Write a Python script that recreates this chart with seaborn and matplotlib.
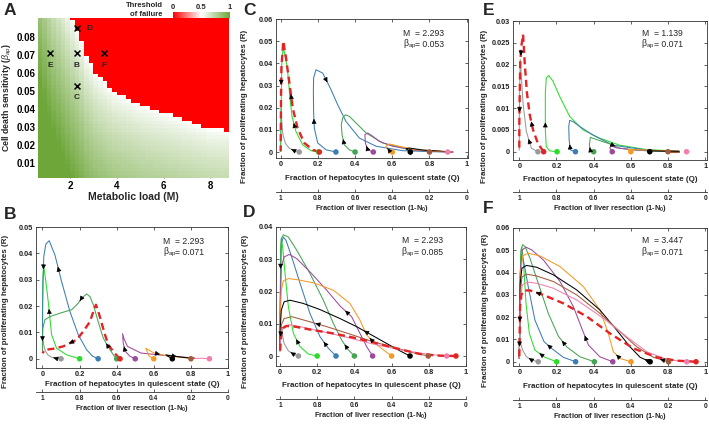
import numpy as np
import pandas as pd
import matplotlib
matplotlib.use("Agg")
import matplotlib.pyplot as plt
import seaborn as sns
from matplotlib.colors import LinearSegmentedColormap

sns.set_theme(style="white")
plt.rcParams["font.family"] = ["Liberation Sans", "DejaVu Sans"]
plt.rcParams["mathtext.fontset"] = "custom"
plt.rcParams["mathtext.rm"] = "Liberation Sans"
plt.rcParams["mathtext.it"] = "Liberation Sans:italic"
plt.rcParams["mathtext.bf"] = "Liberation Sans:bold"

# ---------------- panel A: failure threshold map ----------------
boundary_M = [0.6, 1.2, 2.07, 2.43, 2.69, 3.14, 3.86, 4.29, 5.14, 6.0, 6.71, 7.29, 7.93, 8.83]
boundary_beta = [0.15, 0.12, 0.0906, 0.08, 0.0696, 0.0596, 0.0498, 0.047, 0.0415,
                 0.0378, 0.035, 0.0322, 0.0294, 0.0281]
marker_M = [2.293, 2.293, 2.293, 1.139, 3.447]
marker_beta = [0.071, 0.053, 0.085, 0.071, 0.071]
marker_names = ["B", "C", "D", "E", "F"]

# ---------------- panels B-F: trajectories (Q, R) ----------------
colors = {"gray": "#9a9a9a", "lime": "#2bdc2b", "blue": "#3c7db4", "green": "#45a452",
          "purple": "#9c4a9e", "orange": "#f39a24", "black": "#000000", "brown": "#a35a3d",
          "pink": "#f07fae", "red": "#e32424"}

traj_B = {
    "gray": [(0.1, 0), (0.07, 0.0002), (0.049, 0.0006), (0.03, 0.0014), (0.015, 0.003),
             (0.006, 0.0055), (0.002, 0.007), (0, 0.005), (0, 0.003)],
    "lime": [(0.2, 0), (0.13, 0.0015), (0.076, 0.004), (0.049, 0.0091), (0.04, 0.0154),
             (0.031, 0.0217), (0.018, 0.0293), (0.007, 0.035), (0.002, 0.0306), (0, 0.019),
             (0, 0.0066), (0, 0.003)],
    "blue": [(0.3, 0), (0.27, 0.001), (0.238, 0.0034), (0.193, 0.0091), (0.148, 0.0179),
             (0.103, 0.0293), (0.067, 0.0394), (0.036, 0.0448), (0.018, 0.0435), (0.007, 0.0388),
             (0.003, 0.03), (0.001, 0.02), (0, 0.01), (0, 0.004)],
    "green": [(0.4, 0), (0.385, 0.0012), (0.364, 0.0034), (0.328, 0.0078), (0.30, 0.0141),
              (0.274, 0.0205), (0.256, 0.0236), (0.238, 0.0246), (0.211, 0.023), (0.193, 0.0211),
              (0.157, 0.0186), (0.094, 0.0173), (0.04, 0.016), (0.013, 0.0148), (0.002, 0.0116),
              (0, 0.0066), (0, 0.003)],
    "purple": [(0.5, 0), (0.47, 0.001), (0.445, 0.003), (0.435, 0.006), (0.432, 0.0095),
               (0.44, 0.0075), (0.458, 0.0047), (0.53, 0.0022), (0.674, 0.0011), (0.82, 0.0003)],
    "orange": [(0.6, 0), (0.575, 0.001), (0.557, 0.004), (0.6, 0.0022), (0.66, 0.0013),
               (0.75, 0.0005), (0.82, 0.0001)],
    "black": [(0.7, 0), (0.68, 0.0008), (0.665, 0.0015), (0.69, 0.0012), (0.75, 0.0006), (0.82, 0.0001)],
    "brown": [(0.8, 0), (0.79, 0.0003), (0.82, 0.0001)],
    "pink": [(0.9, 0), (0.86, 0.0002), (0.82, 0.0001)],
    "red": [(0.418, 0), (0.39, 0.002), (0.355, 0.0053), (0.337, 0.0091), (0.319, 0.0135),
            (0.301, 0.0179), (0.288, 0.0205), (0.274, 0.0179), (0.256, 0.0141), (0.22, 0.0104),
            (0.184, 0.0072), (0.112, 0.0047), (0.058, 0.0038), (0.013, 0.0034), (0, 0.0021)],
}
arrows_B = [("blue", 5), ("blue", 9), ("blue", 12), ("lime", 4), ("green", 2), ("green", 8),
            ("red", 10), ("gray", 1), ("purple", 2), ("orange", 3), ("black", 3)]

traj_C = {
    "gray": [(0.1, 0), (0.073, 0.0006), (0.045, 0.0018), (0.025, 0.004), (0.012, 0.008),
             (0.006, 0.014), (0.003, 0.02), (0.001, 0.015), (0, 0.005), (0, 0.0003)],
    "lime": [(0.204, 0), (0.163, 0.0006), (0.118, 0.0033), (0.082, 0.0093), (0.061, 0.0161),
             (0.05, 0.0244), (0.036, 0.0379), (0.014, 0.0477), (0.006, 0.04), (0.003, 0.02),
             (0.001, 0.005), (0, 0.0003)],
    "blue": [(0.297, 0), (0.244, 0.001), (0.199, 0.0041), (0.181, 0.0108), (0.177, 0.0183),
             (0.176, 0.0274), (0.177, 0.0334), (0.19, 0.0371), (0.226, 0.0356), (0.271, 0.0281),
             (0.306, 0.0214), (0.351, 0.0138), (0.423, 0.0063), (0.513, 0.0026), (0.656, 0.0006),
             (0.835, 0.0001), (0.925, 0)],
    "green": [(0.4, 0), (0.369, 0.001), (0.342, 0.0033), (0.33, 0.0078), (0.326, 0.0123),
              (0.333, 0.0153), (0.348, 0.0168), (0.369, 0.0161), (0.405, 0.0131), (0.459, 0.0086),
              (0.548, 0.0041), (0.692, 0.001), (0.925, 0)],
    "purple": [(0.498, 0), (0.468, 0.001), (0.455, 0.0041), (0.453, 0.0078), (0.468, 0.0086),
               (0.495, 0.0071), (0.53, 0.0048), (0.602, 0.0026), (0.728, 0.0008), (0.925, 0)],
    "orange": [(0.6, 0), (0.584, 0.0006), (0.566, 0.0026), (0.584, 0.0036), (0.638, 0.0026),
               (0.728, 0.001), (0.925, 0)],
    "black": [(0.697, 0), (0.674, 0.0015), (0.692, 0.0018), (0.763, 0.0009), (0.925, 0)],
    "brown": [(0.8, 0), (0.79, 0.0004), (0.85, 0.0002), (0.925, 0)],
    "pink": [(0.898, 0), (0.91, 0.0001), (0.925, 0)],
    "red": [(0.208, 0), (0.172, 0.001), (0.127, 0.0041), (0.091, 0.0108), (0.065, 0.0198),
            (0.047, 0.0311), (0.029, 0.0424), (0.014, 0.05), (0.004, 0.0379), (0.002, 0.0244),
            (0, 0.0003)],
}
arrows_C = [("red", 4), ("red", 8), ("lime", 3), ("gray", 1), ("blue", 3), ("blue", 8),
            ("green", 2), ("purple", 1), ("orange", 1), ("black", 0)]

traj_D = {
    "gray": [(0.099, 0), (0.072, 0.0006), (0.045, 0.0016), (0.022, 0.0039), (0.011, 0.007),
             (0.007, 0.0093), (0.004, 0.0075), (0.002, 0.0049), (0, 0.0013)],
    "lime": [(0.2, 0), (0.152, 0.0006), (0.108, 0.0029), (0.072, 0.007), (0.045, 0.0153),
             (0.027, 0.0256), (0.014, 0.0338), (0.007, 0.0364), (0.004, 0.0328), (0.002, 0.0225),
             (0, 0.0091), (0, 0.0019)],
    "blue": [(0.301, 0), (0.26, 0.0024), (0.215, 0.006), (0.161, 0.0132), (0.108, 0.0225),
             (0.063, 0.0307), (0.032, 0.0359), (0.018, 0.0369), (0.007, 0.0348), (0.004, 0.0276),
             (0.002, 0.0153), (0, 0.0029)],
    "green": [(0.4, 0), (0.367, 0.0019), (0.332, 0.0049), (0.287, 0.0101), (0.233, 0.0173),
              (0.161, 0.0256), (0.09, 0.0328), (0.045, 0.0369), (0.018, 0.0376), (0.007, 0.0364),
              (0.004, 0.0318), (0.002, 0.0173), (0, 0.0029)],
    "purple": [(0.498, 0), (0.466, 0.0029), (0.43, 0.007), (0.385, 0.0122), (0.323, 0.0155),
               (0.251, 0.0204), (0.161, 0.0261), (0.09, 0.0302), (0.05, 0.0315), (0.022, 0.0307),
               (0.007, 0.0276), (0.002, 0.0173), (0, 0.0029)],
    "orange": [(0.6, 0), (0.556, 0.0019), (0.502, 0.0044), (0.466, 0.0065), (0.43, 0.0111),
               (0.376, 0.0163), (0.287, 0.0204), (0.179, 0.0227), (0.09, 0.0237), (0.045, 0.024),
               (0.018, 0.0233), (0.007, 0.0204), (0.002, 0.0122), (0, 0.0029)],
    "black": [(0.699, 0), (0.645, 0.0016), (0.573, 0.0039), (0.502, 0.0062), (0.412, 0.0091),
              (0.323, 0.0116), (0.215, 0.0144), (0.125, 0.0163), (0.054, 0.0173), (0.022, 0.0168),
              (0.007, 0.0142), (0.002, 0.0091), (0, 0.0029)],
    "brown": [(0.797, 0), (0.717, 0.001), (0.609, 0.0027), (0.502, 0.0044), (0.376, 0.0068),
              (0.251, 0.0091), (0.143, 0.0109), (0.063, 0.0122), (0.022, 0.0116), (0.007, 0.0096),
              (0.002, 0.006), (0, 0.0024)],
    "pink": [(0.896, 0), (0.789, 0.0006), (0.645, 0.0019), (0.502, 0.0037), (0.358, 0.0058),
             (0.233, 0.0075), (0.125, 0.0089), (0.054, 0.0097), (0.022, 0.0093), (0.007, 0.0075),
             (0.002, 0.0049), (0, 0.0019)],
    "red": [(0.946, 0), (0.86, 0.0001), (0.753, 0.0006), (0.645, 0.0021), (0.538, 0.0037),
            (0.412, 0.0055), (0.287, 0.007), (0.161, 0.0082), (0.081, 0.0091), (0.036, 0.0093),
            (0.014, 0.0086), (0.005, 0.006), (0.002, 0.0029), (0, 0.0006)],
}
arrows_D = [("gray", 1), ("gray", 6), ("lime", 2), ("lime", 8), ("blue", 1), ("green", 1),
            ("purple", 3), ("orange", 2), ("black", 3), ("brown", 5)]

traj_E = {
    "gray": [(0.1, 0), (0.065, 0.0008), (0.038, 0.0046), (0.02, 0.0112), (0.011, 0.0173),
             (0.005, 0.0212), (0.002, 0.015), (0, 0.0073), (0, 0.0004)],
    "lime": [(0.203, 0), (0.163, 0.0002), (0.145, 0.0012), (0.14, 0.005), (0.14, 0.0081),
             (0.14, 0.0135), (0.145, 0.0169), (0.158, 0.0175), (0.181, 0.0162), (0.217, 0.0127),
             (0.271, 0.0081), (0.343, 0.005), (0.433, 0.0031), (0.54, 0.0015), (0.684, 0.0005),
             (0.86, 0.0001)],
    "blue": [(0.302, 0), (0.275, 0.0004), (0.268, 0.0027), (0.266, 0.0058), (0.271, 0.0072),
             (0.289, 0.0069), (0.325, 0.0058), (0.397, 0.0038), (0.504, 0.0015), (0.684, 0.0004),
             (0.86, 0)],
    "green": [(0.4, 0), (0.382, 0.0004), (0.377, 0.0015), (0.382, 0.0033), (0.415, 0.0028),
              (0.487, 0.0018), (0.54, 0.0008), (0.684, 0.0002), (0.86, 0)],
    "purple": [(0.5, 0), (0.487, 0.0008), (0.492, 0.0014), (0.522, 0.0009), (0.612, 0.0004),
               (0.86, 0.0001)],
    "orange": [(0.6, 0), (0.585, 0.0005), (0.612, 0.0005), (0.86, 0.0001)],
    "black": [(0.702, 0), (0.69, 0.0002), (0.86, 0.0001)],
    "brown": [(0.8, 0), (0.86, 0)],
    "pink": [(0.9, 0)],
    "red": [(0.131, 0), (0.1, 0.0019), (0.074, 0.005), (0.056, 0.0085), (0.041, 0.0135),
            (0.029, 0.0204), (0.023, 0.025), (0.02, 0.0269), (0.011, 0.0242), (0.005, 0.0204),
            (0.002, 0.0127), (0, 0.0062), (0, 0.0004)],
}
arrows_E = [("red", 2), ("red", 8), ("red", 10), ("gray", 1), ("lime", 3), ("blue", 1),
            ("green", 1), ("green", 5)]

traj_F = {
    "gray": [(0.102, 0), (0.066, 0.0008), (0.039, 0.0022), (0.018, 0.0052), (0.007, 0.0082),
             (0.003, 0.0095), (0.001, 0.007), (0, 0.0015)],
    "lime": [(0.201, 0), (0.138, 0.002), (0.084, 0.0052), (0.054, 0.0127), (0.036, 0.0262),
             (0.025, 0.0412), (0.018, 0.0487), (0.013, 0.0514), (0.007, 0.0472), (0.004, 0.0307),
             (0.002, 0.0127), (0, 0.0022)],
    "blue": [(0.303, 0), (0.237, 0.002), (0.174, 0.006), (0.133, 0.009), (0.084, 0.0187),
             (0.048, 0.0337), (0.025, 0.0442), (0.016, 0.0475), (0.007, 0.0442), (0.004, 0.0277),
             (0.002, 0.0097), (0, 0.0015)],
    "green": [(0.404, 0), (0.327, 0.0022), (0.255, 0.0067), (0.21, 0.0115), (0.156, 0.0217),
              (0.102, 0.0352), (0.057, 0.0465), (0.031, 0.0517), (0.018, 0.0525), (0.009, 0.0502),
              (0.004, 0.0352), (0.002, 0.0157), (0, 0.0015)],
    "purple": [(0.503, 0), (0.434, 0.0022), (0.372, 0.0075), (0.336, 0.015), (0.291, 0.0247),
               (0.219, 0.036), (0.129, 0.0457), (0.066, 0.0502), (0.036, 0.0514), (0.016, 0.0502),
               (0.005, 0.0397), (0.002, 0.0202), (0, 0.0015)],
    "orange": [(0.601, 0), (0.542, 0.0015), (0.506, 0.0045), (0.479, 0.0127), (0.434, 0.0232),
               (0.345, 0.0337), (0.219, 0.0427), (0.111, 0.0475), (0.048, 0.0487), (0.018, 0.0475),
               (0.005, 0.0382), (0.002, 0.0187), (0, 0.0015)],
    "black": [(0.704, 0), (0.65, 0.002), (0.596, 0.0067), (0.524, 0.0142), (0.434, 0.0232),
              (0.309, 0.0322), (0.183, 0.039), (0.093, 0.0424), (0.039, 0.0432), (0.014, 0.042),
              (0.005, 0.0352), (0.002, 0.0187), (0, 0.0015)],
    "brown": [(0.803, 0), (0.722, 0.002), (0.632, 0.0067), (0.542, 0.0135), (0.434, 0.0217),
              (0.309, 0.03), (0.183, 0.036), (0.093, 0.0385), (0.039, 0.0393), (0.014, 0.038),
              (0.005, 0.0307), (0.002, 0.0157), (0, 0.0015)],
    "pink": [(0.901, 0), (0.794, 0.001), (0.686, 0.0045), (0.578, 0.0112), (0.452, 0.0195),
             (0.309, 0.0277), (0.183, 0.033), (0.093, 0.0352), (0.045, 0.0357), (0.016, 0.0345),
             (0.005, 0.0277), (0.002, 0.0127), (0, 0.0015)],
    "red": [(0.951, 0), (0.847, 0.0005), (0.74, 0.002), (0.614, 0.006), (0.488, 0.0127),
            (0.363, 0.0203), (0.237, 0.0262), (0.129, 0.03), (0.057, 0.032), (0.025, 0.032),
            (0.011, 0.03), (0.004, 0.0247), (0.002, 0.0127), (0, 0.0015)],
}
arrows_F = [("gray", 1), ("lime", 1), ("lime", 10), ("blue", 2), ("green", 2), ("purple", 2),
            ("orange", 1), ("black", 0), ("brown", 0), ("red", 7), ("red", 11)]

Q_ticks = [0, 0.2, 0.4, 0.6, 0.8, 1]
resection_ticks = [1, 0.8, 0.6, 0.4, 0.2, 0]

W, H = 709, 426
fig = plt.figure(figsize=(W / 100, H / 100), dpi=100)


def px_axes(l, t, r, b):
    return fig.add_axes([l / W, 1 - b / H, (r - l) / W, (b - t) / H])


def fmt(v):
    return f"{round(v, 4):g}"


# ---------------- panel A ----------------
axA = px_axes(38, 18, 229, 178)
M_edges = np.arange(0.6, 8.81, 0.2)
beta_edges = np.arange(0.0015, 0.0916, 0.002)
M_mid = (M_edges[:-1] + M_edges[1:]) / 2
beta_mid = (beta_edges[:-1] + beta_edges[1:]) / 2
beta_c = np.interp(M_mid, boundary_M, boundary_beta)
BB, BC = np.meshgrid(beta_mid, beta_c, indexing="ij")
vals = np.where(BB >= BC, 0.0, 0.5 + 0.5 * np.clip((BC - BB) / 0.09, 0, 1) ** 0.75)
cmap = LinearSegmentedColormap.from_list("fail", ["#ff0000", "#ffffff", "#6ea63a"])
mesh = axA.pcolormesh(M_edges, beta_edges, vals, cmap=cmap, vmin=0, vmax=1)
sns.scatterplot(x=marker_M, y=marker_beta, marker="x", color="black", s=18, linewidth=1.1, ax=axA, zorder=3)
for m, b, name in zip(marker_M, marker_beta, marker_names):
    if name == "D":
        axA.text(m + 0.55, b - 0.0005, name, ha="center", va="center", fontsize=6, fontweight="bold")
    else:
        axA.text(m, b - 0.0068, name, ha="center", va="center", fontsize=6, fontweight="bold")
axA.set_xlim(0.63, 8.8)
axA.set_ylim(0.0017, 0.0905)
axA.set_xticks([2, 4, 6, 8])
axA.set_xticklabels(["2", "4", "6", "8"])
axA.set_yticks([0.01, 0.02, 0.03, 0.04, 0.05, 0.06, 0.07, 0.08])
axA.set_yticklabels([fmt(v) for v in axA.get_yticks()])
axA.tick_params(direction="in", length=2, width=0.5, colors="#333333", labelsize=7, pad=2,
                bottom=True, left=True)
for lab in axA.get_xticklabels() + axA.get_yticklabels():
    lab.set_fontweight("bold")
    lab.set_color("black")
for s in axA.spines.values():
    s.set_visible(False)
axA.set_xlabel("Metabolic load (M)", fontsize=7.5, fontweight="bold")
axA.xaxis.set_label_coords(0.5, -0.09)
axA.set_ylabel(r"Cell death sensitivity ($\beta_{ap}$)", fontsize=6.3, fontweight="bold")
axA.yaxis.set_label_coords(-0.125, 0.5)

cax = px_axes(173, 12, 230, 17.5)
cb = fig.colorbar(mesh, cax=cax, orientation="horizontal", ticks=[0, 0.5, 1])
cb.outline.set_visible(False)
cax.xaxis.set_ticks_position("top")
cax.set_xticklabels(["0", "0.5", "1"])
cax.tick_params(length=0, labelsize=5.5, pad=1)
for lab in cax.get_xticklabels():
    lab.set_fontweight("bold")
fig.text(163 / W, 1 - 5.5 / H, "Threshold", ha="right", va="center", fontsize=5.5, fontweight="bold")
fig.text(163 / W, 1 - 15 / H, "of failure", ha="right", va="center", fontsize=5.5, fontweight="bold")


# ---------------- panels B-F ----------------
def draw_panel(rect, traj, arrows, xlim, ylim, yticks, M_val, beta_val, xlabel,
               sec_off, xlab_y, ylab_pos, text_y):
    ax = px_axes(*rect)
    order = [k for k in traj if k != "red"] + ["red"]
    for name in order:
        df = pd.DataFrame(traj[name], columns=["Q", "R"])
        if name == "red":
            sns.lineplot(data=df, x="Q", y="R", sort=False, estimator=None, ax=ax,
                         color=colors[name], lw=1.7, linestyle=(0, (3.0, 1.8)), zorder=3)
        else:
            sns.lineplot(data=df, x="Q", y="R", sort=False, estimator=None, ax=ax,
                         color=colors[name], lw=0.75, zorder=2)
    starts = pd.DataFrame([(k, v[0][0], v[0][1]) for k, v in traj.items()], columns=["name", "Q", "R"])
    sns.scatterplot(data=starts, x="Q", y="R", hue="name", palette=colors, s=16, linewidth=0,
                    legend=False, ax=ax, zorder=4)
    for name, i in arrows:
        p0 = np.array(traj[name][i], dtype=float)
        p1 = np.array(traj[name][i + 1], dtype=float)
        ax.annotate("", xy=p0 + 0.56 * (p1 - p0), xytext=p0 + 0.44 * (p1 - p0),
                    arrowprops=dict(arrowstyle="-|>", color="black", lw=0.5, mutation_scale=7,
                                    shrinkA=0, shrinkB=0), zorder=5)
    ax.set_xlim(*xlim)
    ax.set_ylim(*ylim)
    ax.set_xticks(Q_ticks)
    ax.set_xticklabels([fmt(v) for v in Q_ticks])
    ax.set_yticks(yticks)
    ax.set_yticklabels([fmt(v) for v in yticks])
    ax.tick_params(direction="in", length=2, width=0.5, labelsize=5.3, pad=2,
                   top=True, right=True, bottom=True, left=True, colors="#222222")
    for lab in ax.get_xticklabels() + ax.get_yticklabels():
        lab.set_fontweight("bold")
    for s in ax.spines.values():
        s.set_color("#333333")
        s.set_linewidth(0.6)
    ax.set_xlabel(xlabel, fontsize=5.8, fontweight="bold")
    ax.xaxis.set_label_coords(0.5, xlab_y)
    ax.set_ylabel("Fraction of proliferating hepatocytes (R)", fontsize=5.8, fontweight="bold")
    ax.yaxis.set_label_coords(*ylab_pos)

    ax.text(0.66, text_y[0], "M", transform=ax.transAxes, fontsize=6.2, va="center")
    ax.text(0.725, text_y[0], "= " + M_val, transform=ax.transAxes, fontsize=6.2, va="center")
    ax.text(0.66, text_y[1], r"$\mathrm{\beta_{ap}}$", transform=ax.transAxes, fontsize=6.2, va="center")
    ax.text(0.725, text_y[1], "= " + beta_val, transform=ax.transAxes, fontsize=6.2, va="center")

    sec = ax.secondary_xaxis(-sec_off, functions=(lambda q: 1 - q, lambda r: 1 - r))
    sec.set_xticks(resection_ticks)
    sec.set_xticklabels([fmt(v) for v in resection_ticks])
    sec.tick_params(direction="in", length=2, width=0.5, labelsize=4.8, pad=2, colors="#222222")
    for lab in sec.get_xticklabels():
        lab.set_fontweight("bold")
    sec.spines["bottom"].set_color("#333333")
    sec.spines["bottom"].set_linewidth(0.6)
    sec.set_xlabel(r"Fraction of liver resection (1-N$_\mathbf{0}$)", fontsize=5.3,
                   fontweight="bold", labelpad=1)
    return ax


yt5 = [0, 0.01, 0.02, 0.03, 0.04, 0.05]
yt6 = [0, 0.01, 0.02, 0.03, 0.04, 0.05, 0.06]
state_lab = "Fraction of hepatocytes in quiescent state (Q)"

draw_panel((36, 227, 228, 368), traj_B, arrows_B, (-0.035, 1.0), (-0.0035, 0.05), yt5,
           "2.293", "0.071", state_lab, 0.170, -0.092, (-0.14, 0.404), (0.90, 0.82))
draw_panel((276, 19, 468, 158), traj_C, arrows_C, (-0.025, 1.007), (-0.0027, 0.06), yt6,
           "2.293", "0.053", state_lab, 0.245, -0.122, (-0.146, 0.37), (0.897, 0.82))
draw_panel((276, 227, 466, 366), traj_D, arrows_D, (-0.0215, 1.0), (-0.0031, 0.04),
           [0, 0.01, 0.02, 0.03, 0.04], "2.293", "0.085",
           "Fraction of hepatocytes in quiescent phase (Q)", 0.237, -0.115, (-0.142, 0.39), (0.90, 0.82))
draw_panel((513, 21, 707, 160), traj_E, arrows_E, (-0.034, 1.01), (-0.0019, 0.03),
           [0, 0.005, 0.01, 0.015, 0.02, 0.025, 0.03], "1.139", "0.071", state_lab,
           0.230, -0.115, (-0.129, 0.385), (0.91, 0.83))
draw_panel((513, 228, 707, 366), traj_F, arrows_F, (-0.034, 1.01), (-0.0019, 0.06), yt6,
           "3.447", "0.071", state_lab, 0.246, -0.123, (-0.124, 0.405), (0.908, 0.826))

for letter, x, y in [("A", 4, 3), ("B", 4, 207), ("C", 243, 3), ("D", 243, 205),
                     ("E", 483, 3), ("F", 483, 201)]:
    fig.text(x / W, 1 - y / H, letter, ha="left", va="top", fontsize=12.5, fontweight="bold")

fig.savefig("out.png", dpi=100)
